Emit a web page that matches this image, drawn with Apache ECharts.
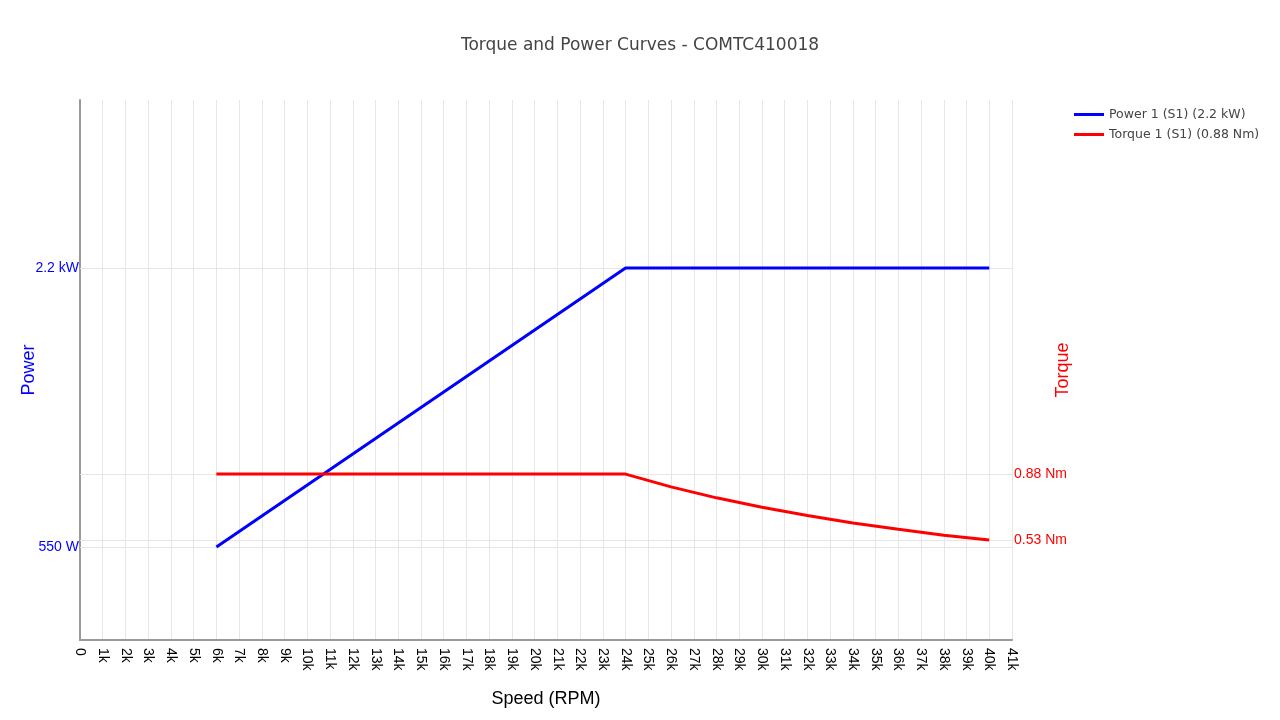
<!DOCTYPE html>
<html>
<head>
<meta charset="utf-8">
<script src="https://cdn.jsdelivr.net/npm/echarts@6/dist/echarts.min.js"></script>
<style>html,body{margin:0;padding:0;background:#fff;}#c{width:1280px;height:720px;}</style>
</head>
<body>
<div id="c"></div>
<script>
const titleText = 'Torque and Power Curves - COMTC410018';
const powerName = 'Power 1 (S1) (2.2 kW)';
const torqueName = 'Torque 1 (S1) (0.88 Nm)';
const speedPower = [6000, 24000, 40000];
const powerW = [550, 2200, 2200];
const speedTorque = [6000, 24000, 26000, 28000, 30000, 32000, 34000, 36000, 38000, 40000];
const torqueNm = [0.88, 0.88, 0.812, 0.754, 0.704, 0.66, 0.621, 0.587, 0.556, 0.53];
const powerTicks = [550, 2200];
const torqueTicks = [0.53, 0.88];
const speedMin = 0, speedMax = 41000, speedStep = 1000;
const powerMax = 3193, torqueMax = 2.864;

const chart = echarts.init(document.getElementById('c'));
const gridColor = '#e6e6e6';
const sans = 'Arial, "Liberation Sans", sans-serif';
chart.setOption({
  animation: false,
  backgroundColor: '#fff',
  title: {
    text: titleText, left: 'center', top: 32,
    textStyle: { fontFamily: 'Verdana, "DejaVu Sans"', fontSize: 17, fontWeight: 'normal', color: '#444' }
  },
  legend: {
    orient: 'vertical', left: 1074, top: 108, padding: 0, itemGap: 7, itemWidth: 30, itemHeight: 3,
    icon: 'rect',
    textStyle: { fontFamily: 'Verdana, "DejaVu Sans"', fontSize: 12.5, color: '#444' },
    data: [powerName, torqueName]
  },
  grid: { left: 80, right: 268, top: 100, bottom: 80, outerBoundsMode: 'none', containLabel: false },
  xAxis: {
    type: 'value', min: speedMin, max: speedMax, interval: speedStep,
    name: 'Speed (RPM)', nameLocation: 'middle', nameGap: 50, nameMoveOverlap: false,
    nameTextStyle: { fontFamily: sans, fontSize: 18, color: '#000' },
    axisLine: { show: true, lineStyle: { color: '#999', width: 2 } },
    axisTick: { show: false },
    axisLabel: {
      rotate: -90, margin: 8, fontFamily: sans, fontSize: 14, color: '#000',
      formatter: v => v === 0 ? '0' : (v / 1000) + 'k'
    },
    splitLine: { show: true, lineStyle: { color: gridColor, width: 1 } }
  },
  yAxis: [
    {
      type: 'value', min: 0, max: powerMax, position: 'left',
      name: 'Power', nameLocation: 'middle', nameGap: 42, nameMoveOverlap: false,
      nameTextStyle: { fontFamily: sans, fontSize: 18, color: '#0000ff' },
      axisLine: { show: true, lineStyle: { color: '#999', width: 2 } },
      axisTick: { show: false },
      splitLine: { show: false },
      axisLabel: {
        customValues: powerTicks, margin: 1, fontFamily: sans, fontSize: 14, color: '#0000ff',
        formatter: v => v >= 1000 ? (v / 1000) + ' kW' : v + ' W'
      }
    },
    {
      type: 'value', min: 0, max: torqueMax, position: 'right',
      name: 'Torque', nameLocation: 'middle', nameGap: 42, nameMoveOverlap: false,
      nameTextStyle: { fontFamily: sans, fontSize: 18, color: '#ff0000' },
      axisLine: { show: false },
      axisTick: { show: false },
      splitLine: { show: false },
      axisLabel: {
        customValues: torqueTicks, margin: 2, fontFamily: sans, fontSize: 14, color: '#ff0000',
        formatter: v => v + ' Nm'
      }
    }
  ],
  series: [
    {
      type: 'line', yAxisIndex: 0, data: [], z: 1, silent: true,
      markLine: {
        z: 1, silent: true, symbol: 'none', animation: false, label: { show: false },
        lineStyle: { color: gridColor, width: 1, type: 'solid' },
        data: powerTicks.map(v => ({ yAxis: v }))
      }
    },
    {
      type: 'line', yAxisIndex: 1, data: [], z: 1, silent: true,
      markLine: {
        z: 1, silent: true, symbol: 'none', animation: false, label: { show: false },
        lineStyle: { color: gridColor, width: 1, type: 'solid' },
        data: torqueTicks.map(v => ({ yAxis: v }))
      }
    },
    {
      name: powerName, type: 'line', yAxisIndex: 0, z: 3, symbol: 'none',
      lineStyle: { color: '#0000ff', width: 3 }, itemStyle: { color: '#0000ff' },
      data: speedPower.map((s, i) => [s, powerW[i]])
    },
    {
      name: torqueName, type: 'line', yAxisIndex: 1, z: 3, symbol: 'none',
      lineStyle: { color: '#ff0000', width: 3 }, itemStyle: { color: '#ff0000' },
      data: speedTorque.map((s, i) => [s, torqueNm[i]])
    }
  ]
});
</script>
</body>
</html>
